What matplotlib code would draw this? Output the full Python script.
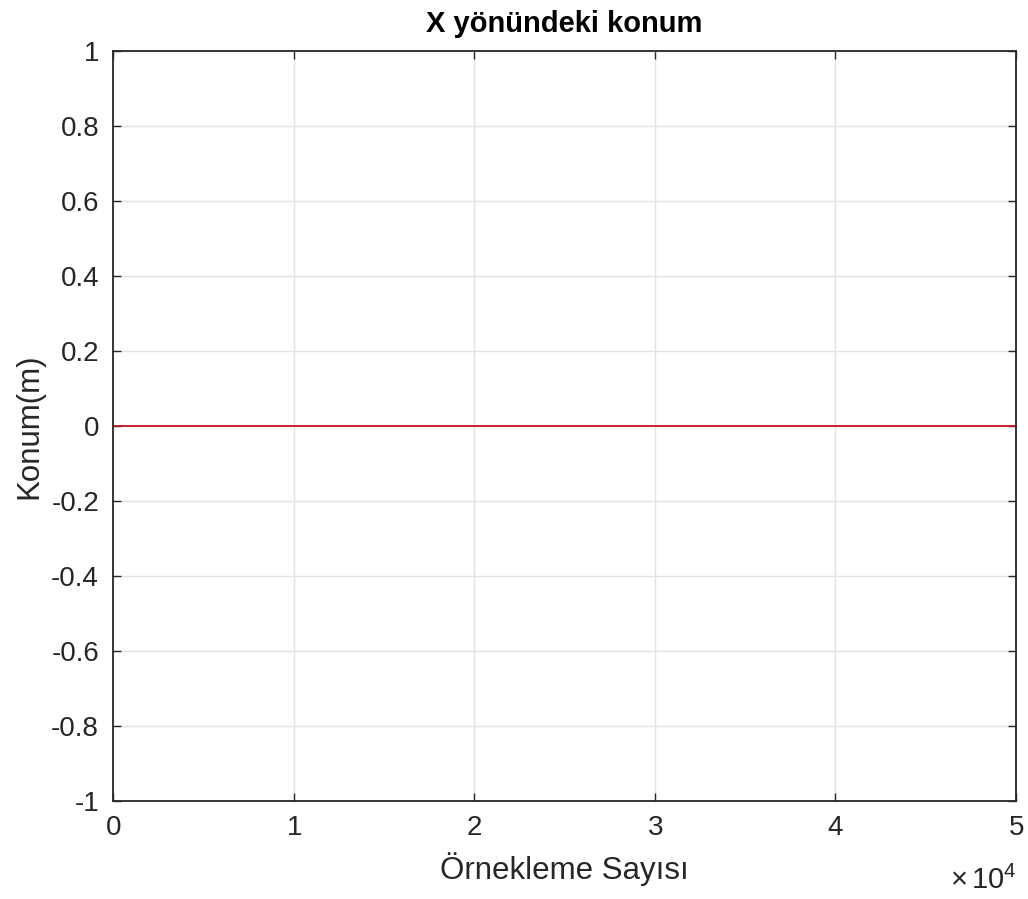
import matplotlib.pyplot as plt
from matplotlib.ticker import ScalarFormatter

# sample count endpoints and position (constant zero signal)
ornek = [0, 50000]
konum = [0.0, 0.0]

xticks = [0, 10000, 20000, 30000, 40000, 50000]
yticks = [-1, -0.8, -0.6, -0.4, -0.2, 0, 0.2, 0.4, 0.6, 0.8, 1]
ytick_labels = ['-1', '-0.8', '-0.6', '-0.4', '-0.2', '0', '0.2', '0.4', '0.6', '0.8', '1']

plt.rcParams['font.family'] = ['Liberation Sans', 'DejaVu Sans']
plt.rcParams['mathtext.fontset'] = 'custom'
plt.rcParams['mathtext.rm'] = 'Liberation Sans'
plt.rcParams['mathtext.it'] = 'Liberation Sans'

fig = plt.figure(figsize=(10.28, 8.99), dpi=100)
ax = fig.add_axes([113 / 1028, 1 - 801 / 899, (1016 - 113) / 1028, (801 - 51) / 899])

ax.plot(ornek, konum, color='#c8141e', linewidth=1.3)

ax.set_xlim(0, 50000)
ax.set_ylim(-1, 1)
ax.set_xticks(xticks)
ax.set_yticks(yticks)
ax.set_yticklabels(ytick_labels)

fmt = ScalarFormatter(useMathText=True)
fmt.set_powerlimits((0, 0))
ax.xaxis.set_major_formatter(fmt)
ax.xaxis.get_offset_text().set_visible(False)

ax.grid(True, color='#e3e3e3', linewidth=1)
ax.set_axisbelow(True)
for s in ax.spines.values():
    s.set_color('#262626')
    s.set_linewidth(1.3)
ax.tick_params(direction='in', length=6, width=1, colors='#262626', labelsize=20,
               top=True, right=True, pad=10)
for lab in ax.get_xticklabels() + ax.get_yticklabels():
    lab.set_color('#262626')

ax.set_title('X yönündeki konum', fontsize=21, fontweight='bold', pad=14, color='black')
ax.set_xlabel('Örnekleme Sayısı', fontsize=22.5, color='#262626', labelpad=8)
ax.set_ylabel('Konum(m)', fontsize=22.5, color='#262626', labelpad=5)

fig.text(1016 / 1028, 1 - 880 / 899, r'$\times\,\mathrm{10}^{4}$', fontsize=21, color='#262626',
         ha='right', va='center')

fig.savefig('out.png', dpi=100)
